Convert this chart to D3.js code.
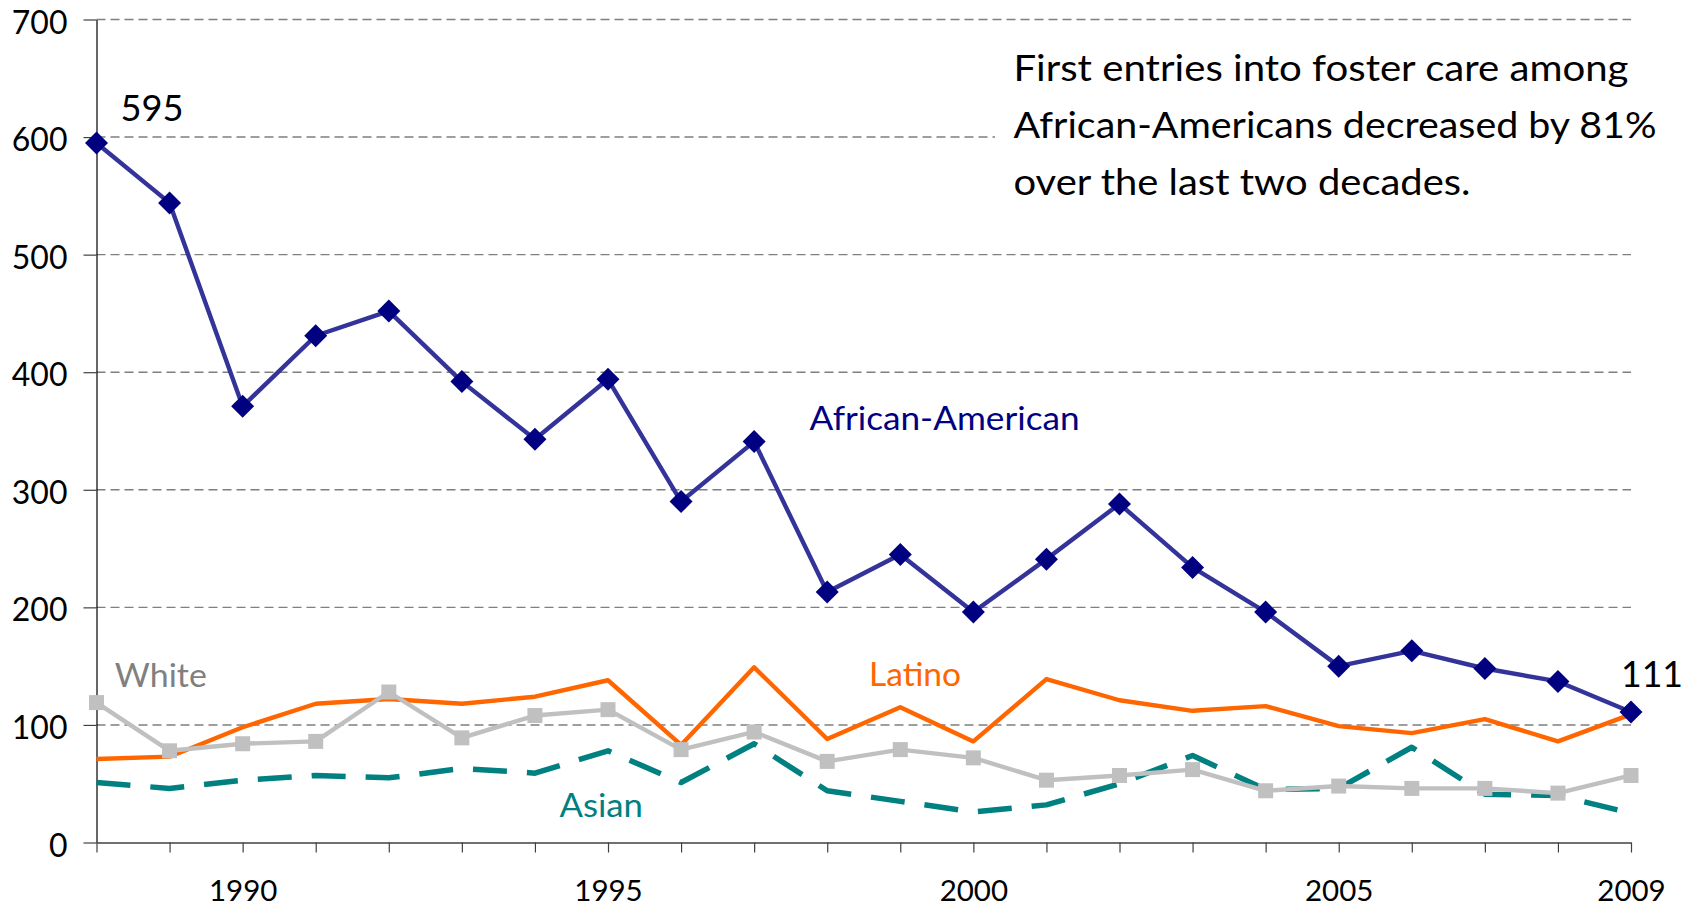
<!DOCTYPE html>
<html>
<head>
<meta charset="utf-8">
<script src="https://cdn.jsdelivr.net/npm/d3@7"></script>
<style>
  html, body { margin: 0; padding: 0; background: #ffffff; }
  svg { display: block; font-family: Lato, "Open Sans", sans-serif; }
</style>
</head>
<body>
<svg id="chart" width="1701" height="908"></svg>
<script>
// ---- data ----
const years = [1988,1989,1990,1991,1992,1993,1994,1995,1996,1997,1998,1999,2000,2001,2002,2003,2004,2005,2006,2007,2008,2009];
const africanAmerican = [595,544,371,431,452,392,343,394,290,341,213,245,196,241,288,234,196,150,163,148,137,111];
const latino = [71,73,98,118,122,118,124,138,83,149,88,115,86,139,121,112,116,99,93,105,86,109];
const white = [119,78,84,86,128,89,108,113,79,94,69,79,72,53,57,62,44,48,46,46,42,57];
const asian = [51,46,53,57,55,63,59,78,51,84,44,35,26,32,50,74,45,46,81,41,40,25];
const yTicks = [0,100,200,300,400,500,600,700];
const xLabelYears = [1990,1995,2000,2005,2009];
const annotationLines = [
  "First entries into foster care among",
  "African-Americans decreased by 81%",
  "over the last two decades."
];

// ---- layout ----
const W = 1701, H = 908;
const margin = {left: 96.5, right: 70, top: 19.5, bottom: 65.5};
const iw = W - margin.left - margin.right;
const ih = H - margin.top - margin.bottom;

const svg = d3.select("#chart");
const g = svg.append("g").attr("transform", `translate(${margin.left},${margin.top})`);

const x = d3.scaleLinear().domain([1988, 2009]).range([0, iw]);
const y = d3.scaleLinear().domain([0, 700]).range([ih, 0]);

// gridlines
g.append("g").selectAll("line").data(yTicks.filter(d => d > 0)).join("line")
  .attr("x1", 0).attr("x2", iw)
  .attr("y1", d => y(d)).attr("y2", d => y(d))
  .attr("stroke", "#7f7f7f").attr("stroke-width", 1.4)
  .attr("stroke-dasharray", "9,5");

// annotation box (covers part of the 600 gridline)
const box = g.append("g");
box.append("rect")
  .attr("x", 995 - margin.left).attr("y", 30 - margin.top)
  .attr("width", W - 995).attr("height", 212)
  .attr("fill", "#ffffff");
const annLens = [615, 643, 457];
box.selectAll("text").data(annotationLines).join("text")
  .attr("x", 1013.5 - margin.left)
  .attr("y", (d, i) => 81 + i * 57 - margin.top)
  .attr("font-size", 36)
  .attr("fill", "#000")
  .attr("textLength", (d, i) => annLens[i])
  .attr("lengthAdjust", "spacingAndGlyphs")
  .text(d => d);

// y axis
const yAxis = g.append("g").call(d3.axisLeft(y).tickValues(yTicks).tickSize(13).tickSizeOuter(0).tickPadding(16));
yAxis.select(".domain").attr("stroke", "#000").attr("stroke-width", 1.2);
yAxis.selectAll(".tick line").attr("stroke", "#404040").attr("stroke-width", 1.2);
yAxis.selectAll(".tick text").attr("font-size", 32).attr("fill", "#000")
  .attr("font-family", "Lato, sans-serif")
  .attr("dy", 13.5);

// x axis
const xAxis = g.append("g").attr("transform", `translate(0,${ih})`)
  .call(d3.axisBottom(x).tickValues(years).tickSize(10).tickSizeOuter(0)
    .tickFormat(d => xLabelYears.includes(d) ? String(d) : ""));
xAxis.select(".domain").attr("stroke", "#404040").attr("stroke-width", 1.5);
xAxis.selectAll(".tick line").attr("stroke", "#404040").attr("stroke-width", 1.2);
xAxis.selectAll(".tick text").attr("font-size", 29.5).attr("fill", "#000")
  .attr("font-family", "Lato, sans-serif")
  .attr("y", 58.5).attr("dy", 0);

// lines
const mk = vals => years.map((yr, i) => ({yr, v: vals[i]}));
const line = d3.line().x(d => x(d.yr)).y(d => y(d.v));

g.append("path").datum(mk(asian)).attr("d", line)
  .attr("fill", "none").attr("stroke", "#008080").attr("stroke-width", 5.5)
  .attr("stroke-dasharray", "34,20").attr("stroke-linejoin", "round");

g.append("path").datum(mk(latino)).attr("d", line)
  .attr("fill", "none").attr("stroke", "#ff6600").attr("stroke-width", 4.4)
  .attr("stroke-linejoin", "round");

g.append("path").datum(mk(white)).attr("d", line)
  .attr("fill", "none").attr("stroke", "#c0c0c0").attr("stroke-width", 4.4)
  .attr("stroke-linejoin", "round");
g.append("g").selectAll("rect").data(mk(white)).join("rect")
  .attr("x", d => x(d.yr) - 7.5).attr("y", d => y(d.v) - 7.5)
  .attr("width", 15).attr("height", 15).attr("fill", "#c0c0c0");

g.append("path").datum(mk(africanAmerican)).attr("d", line)
  .attr("fill", "none").attr("stroke", "#333399").attr("stroke-width", 4.4)
  .attr("stroke-linejoin", "round");
g.append("g").selectAll("path").data(mk(africanAmerican)).join("path")
  .attr("transform", d => `translate(${x(d.yr)},${y(d.v)})`)
  .attr("d", "M0,-11.5L11.5,0L0,11.5L-11.5,0Z")
  .attr("fill", "#000080");

// value labels
const valueLabels = [
  {text: String(africanAmerican[0]), x: 120.5, y: 120.7, len: 63},
  {text: String(africanAmerican[africanAmerican.length - 1]), x: 1621, y: 686.7, len: 62}
];
g.append("g").selectAll("text").data(valueLabels).join("text")
  .attr("x", d => d.x - margin.left).attr("y", d => d.y - margin.top)
  .attr("font-size", 36).attr("fill", "#000")
  .attr("textLength", d => d.len).attr("lengthAdjust", "spacingAndGlyphs")
  .text(d => d.text);

// series labels
const seriesLabels = [
  {text: "African-American", x: 809.6, y: 430, color: "#000080", len: 270},
  {text: "Latino", x: 869, y: 686, color: "#ff6600", len: 92},
  {text: "White", x: 114.8, y: 686.7, color: "#808080", len: 92},
  {text: "Asian", x: 559.5, y: 817, color: "#008080", len: 83.5}
];
g.append("g").selectAll("text").data(seriesLabels).join("text")
  .attr("x", d => d.x - margin.left).attr("y", d => d.y - margin.top)
  .attr("font-size", 32).attr("fill", d => d.color)
  .attr("textLength", d => d.len).attr("lengthAdjust", "spacingAndGlyphs")
  .text(d => d.text);
</script>
</body>
</html>
